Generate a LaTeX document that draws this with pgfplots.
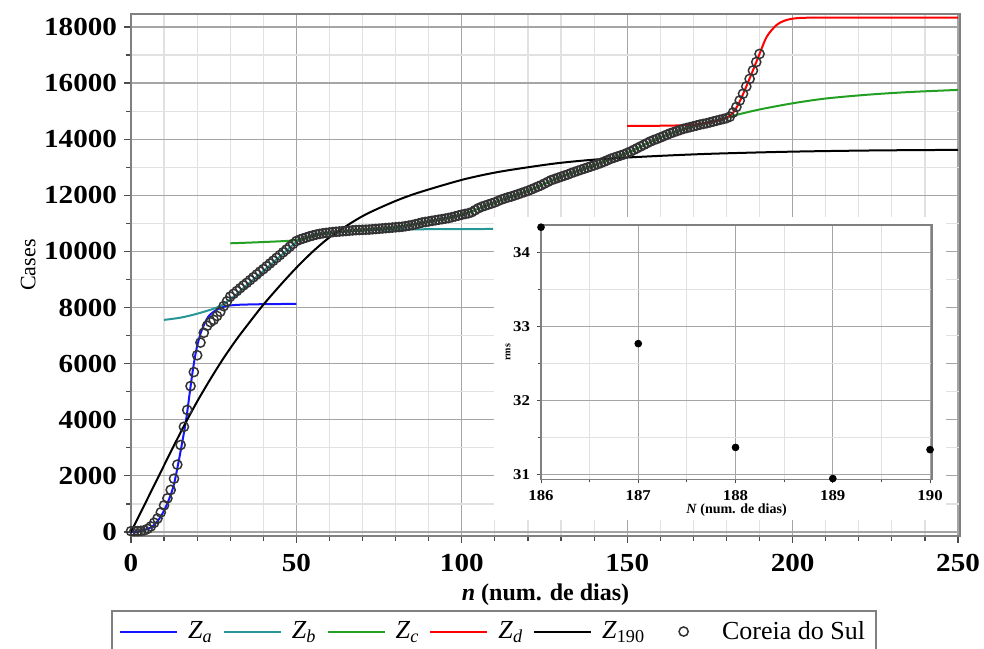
\documentclass[border=0pt]{standalone}
\usepackage{fontspec}
\setmainfont{Liberation Serif}
\newfontfamily\tickfont[FakeStretch=1.12]{Liberation Serif}
\usepackage{pgfplots}
\pgfplotsset{compat=1.18}

\definecolor{zblue}{RGB}{20,20,255}
\definecolor{zteal}{RGB}{40,150,150}
\definecolor{zgreen}{RGB}{35,160,35}
\definecolor{zred}{RGB}{255,0,0}
\definecolor{gridmaj}{RGB}{165,165,165}
\definecolor{gridmin}{RGB}{225,225,225}
\definecolor{framegray}{RGB}{128,128,128}

\begin{document}
\begin{tikzpicture}
% main plot: cumulative cases and the fitted curves
\begin{axis}[
  scale only axis, width=414.5pt, height=261pt,
  xmin=0, xmax=250.6, ymin=-143, ymax=18463,
  xtick={0,50,...,250}, ytick={0,2000,...,18000},
  minor x tick num=4, minor y tick num=1,
  grid=both,
  major grid style={gridmaj, line width=0.6pt},
  minor grid style={gridmin, line width=0.6pt},
  axis line style={framegray, line width=1pt},
  tick align=outside, tick pos=left,
  major tick length=3.5pt, minor tick length=2.5pt,
  tick style={black!70, line width=0.6pt},
  scaled ticks=false,
  /pgf/number format/assume math mode=true,
  /pgf/number format/set thousands separator={},
  ticklabel style={font=\tickfont\bfseries\fontsize{13}{13}\selectfont},
  xticklabel style={yshift=-2pt},
  xlabel={\bfseries\textit{n} (num. de dias)},
  ylabel={Cases},
  every axis x label/.style={at={(axis description cs:0.5,-0.113)}, anchor=center, font=\fontsize{12}{12}\selectfont},
  every axis y label/.style={at={(axis description cs:-0.124,0.519)}, anchor=center, rotate=90, font=\fontsize{11}{11}\selectfont},
  legend columns=6,
  legend cell align=left,
  legend style={at={(axis description cs:-0.0241,-0.1418)}, anchor=north west,
    draw=framegray, line width=1pt, inner xsep=3.5pt, inner ysep=3pt,
    font=\fontsize{13}{13}\selectfont,
    /tikz/every odd column/.append style={column sep=3pt},
    /tikz/every even column/.append style={column sep=3pt},
    nodes={inner sep=2pt}},
  legend image code/.code={\path[draw=none] (0pt,0pt) -- (28.5pt,0pt);
    \draw[mark repeat=2,mark phase=2,#1] plot coordinates {(0pt,0pt) (14.25pt,0pt) (28.5pt,0pt)};},
]
% Z_a
\addplot[zblue, line width=1pt, smooth] coordinates {
 (0,0) (2,20) (4,70) (6,160) (7,250) (9,550) (11,1020) (12.8,1615) (14.3,2450)
 (15.8,3400) (16.8,4110) (17.8,5000) (18.8,5850) (19.9,6580) (21.4,7200)
 (23.4,7680) (25.9,7920) (28.4,8040) (32,8095) (40,8120) (50,8130)};
\addlegendentry{\textit{Z}\textsubscript{\textit{a}}}
% Z_b
\addplot[zteal, line width=1pt, smooth] coordinates {
 (10,7560) (15,7640) (20,7780) (25,7960) (28,8120) (31,8380) (35,8800)
 (40,9300) (45,9820) (50,10330) (53,10490) (56,10600) (60,10670) (65,10720)
 (70,10750) (80,10780) (90,10792) (100,10798) (109.5,10800)};
\addlegendentry{\textit{Z}\textsubscript{\textit{b}}}
% Z_c
\addplot[zgreen, line width=1pt, smooth] coordinates {
 (30,10290) (40,10335) (50,10400) (55,10540) (60,10650) (70,10765) (80,10860)
 (90,11060) (100,11310) (110,11750) (120,12160) (130,12660) (140,13070)
 (150,13510) (160,14060) (170,14460) (180,14760) (183,14866) (190,15060)
 (200,15280) (210,15450) (222,15580) (235,15680) (250,15757)};
\addlegendentry{\textit{Z}\textsubscript{\textit{c}}}
% Z_d
\addplot[zred, line width=1pt, smooth] coordinates {
 (150,14474) (155,14476) (160,14480) (165,14490) (170,14520) (175,14600)
 (178,14680) (180,14770) (182,14940) (184,15340) (186,15880) (188,16450)
 (190,17040) (192.2,17657) (195.2,18075) (198.2,18250) (202,18320)
 (210,18332) (250,18335)};
\addlegendentry{\textit{Z}\textsubscript{\textit{d}}}
% Z_190
\addplot[black, line width=1pt, smooth] coordinates {
 (0,0) (4,950) (8,1900) (12,2850) (16,3780) (20,4650) (24,5450) (28,6200)
 (32,6880) (36,7500) (40,8100) (45,8780) (50,9420) (55,10000) (60,10500)
 (67,11050) (72,11380) (80,11800) (87,12100) (100,12550) (110,12810)
 (120,13000) (130,13160) (142,13290) (157,13390) (175,13480) (200,13557)
 (225,13600) (250,13620)};
\addlegendentry{\textit{Z}\textsubscript{190}}
% daily cumulative cases
\addplot[only marks, mark=o, mark size=2.3pt, draw=black!80, line width=0.75pt] coordinates {
 (0,30) (1,30) (2,31) (3,40) (4,60) (5,110) (6,200) (7,330) (8,480) (9,700)
 (10,950) (11,1200) (12,1500) (13,1900) (14,2400) (15,3100) (16,3750) (17,4350)
 (18,5200) (19,5700) (20,6300) (21,6750) (22,7100) (23,7350) (24,7480) (25,7560)
 (26,7700) (27,7850) (28,8050) (29,8220) (30,8390) (31,8490) (32,8590) (33,8690)
 (34,8790) (35,8880) (36,8980) (37,9080) (38,9180) (39,9280) (40,9370) (41,9470)
 (42,9570) (43,9670) (44,9770) (45,9870) (46,9970) (47,10070) (48,10170)
 (49,10270) (50,10370) (51,10420) (52,10460) (53,10500) (54,10540) (55,10570)
 (56,10600) (57,10625) (58,10645) (59,10660) (60,10675) (61,10690) (62,10700)
 (63,10710) (64,10720) (65,10730) (66,10740) (67,10750) (68,10760) (69,10765)
 (70,10770) (71,10775) (72,10780) (73,10790) (74,10800) (75,10810) (76,10820)
 (77,10830) (78,10840) (79,10850) (80,10860) (81,10870) (82,10880) (83,10900)
 (84,10920) (85,10940) (86,10970) (87,11000) (88,11030) (89,11050) (90,11070)
 (91,11090) (92,11110) (93,11130) (94,11150) (95,11170) (96,11190) (97,11220)
 (98,11250) (99,11280) (100,11310) (101,11335) (102,11360) (103,11400)
 (104,11470) (105,11540) (106,11590) (107,11630) (108,11670) (109,11710)
 (110,11750) (111,11800) (112,11850) (113,11890) (114,11930) (115,11960)
 (116,12000) (117,12040) (118,12080) (119,12120) (120,12160) (121,12210)
 (122,12260) (123,12310) (124,12360) (125,12420) (126,12480) (127,12540)
 (128,12580) (129,12620) (130,12660) (131,12700) (132,12740) (133,12790)
 (134,12830) (135,12870) (136,12910) (137,12950) (138,12990) (139,13030)
 (140,13070) (141,13110) (142,13150) (143,13200) (144,13250) (145,13300)
 (146,13340) (147,13380) (148,13420) (149,13460) (150,13510) (151,13560)
 (152,13620) (153,13680) (154,13740) (155,13800) (156,13860) (157,13920)
 (158,13970) (159,14010) (160,14060) (161,14110) (162,14160) (163,14210)
 (164,14250) (165,14290) (166,14330) (167,14370) (168,14400) (169,14430)
 (170,14460) (171,14490) (172,14520) (173,14545) (174,14570) (175,14600)
 (176,14630) (177,14660) (178,14690) (179,14720) (180,14750) (181,14800)
 (182,14950) (183,15150) (184,15380) (185,15620) (186,15880) (187,16150)
 (188,16450) (189,16750) (190,17040)};
\addlegendentry{Coreia do Sul}
\end{axis}

% backing for the inset
\fill[white] (181.5pt,8pt) rectangle (407.5pt,159.5pt);

% inset: rms against the number of days N
\begin{axis}[
  at={(205pt,28.35pt)}, anchor=south west,
  scale only axis, width=195.5pt, height=127.15pt,
  xmin=186, xmax=190.02, ymin=30.94, ymax=34.37,
  xtick={186,...,190}, ytick={31,...,34},
  minor x tick num=1, minor y tick num=1,
  grid=both,
  major grid style={gridmaj, line width=0.5pt},
  minor grid style={gridmin, line width=0.5pt},
  axis line style={framegray, line width=0.8pt},
  tick align=outside, tick pos=left,
  major tick length=2pt, minor tick length=1.5pt,
  tick style={black!70, line width=0.5pt},
  clip=false,
  /pgf/number format/assume math mode=true,
  ticklabel style={font=\tickfont\bfseries\fontsize{7.5}{7.5}\selectfont},
  xlabel={\bfseries\textit{N} (num. de dias)},
  ylabel={\bfseries rms},
  every axis x label/.style={at={(axis description cs:0.5,-0.12)}, anchor=center, font=\fontsize{7}{7}\selectfont},
  every axis y label/.style={at={(axis description cs:-0.084,0.5)}, anchor=center, rotate=90, font=\fontsize{5}{5}\selectfont},
]
\addplot[only marks, mark=*, mark size=1.7pt, black] coordinates {
 (186,34.34) (187,32.77) (188,31.37) (189,30.95) (190,31.34)};
\end{axis}

\pgfresetboundingbox
\path[use as bounding box] (-65.5pt,-56pt) rectangle (426.5pt,268pt);
\end{tikzpicture}
\end{document}
